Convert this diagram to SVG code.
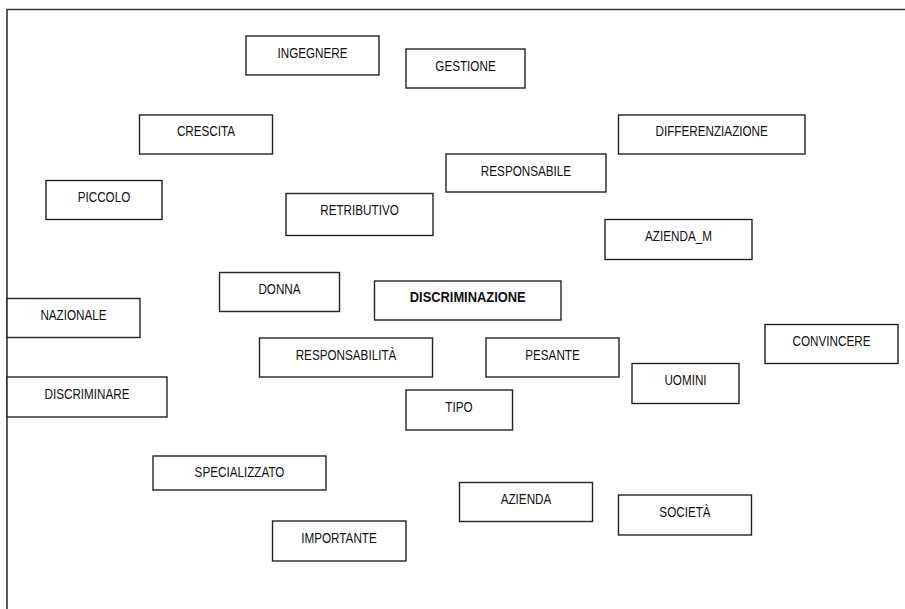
<svg xmlns="http://www.w3.org/2000/svg" width="905" height="609" viewBox="0 0 905 609">
  <style>
    .frame { fill: none; stroke: #333; stroke-width: 1.6; }
    .node rect { fill: #fff; stroke: #222; stroke-width: 1.4; }
    .node text { font-family: "Liberation Sans", Arial, sans-serif; font-size: 14.8px; fill: #111; text-anchor: middle; }
    .node.main text { font-weight: bold; }
  </style>
  <rect width="905" height="609" fill="#fff"/>
  <!-- outer frame, open to the right and bottom -->
  <path class="frame" d="M7,609 V9.5 H905"/>
  <g id="connectors"></g>
  <!-- labels use a narrowed sans: translate to the box centre/baseline, then squeeze horizontally -->
  <g id="n-ingegnere" class="node"><rect x="246" y="36" width="133" height="39"/><text transform="translate(312.5,57.5) scale(0.79,1)">INGEGNERE</text></g>
  <g id="n-gestione" class="node"><rect x="406" y="49" width="119" height="39"/><text transform="translate(465.5,70.5) scale(0.79,1)">GESTIONE</text></g>
  <g id="n-crescita" class="node"><rect x="139.5" y="115" width="133" height="39"/><text transform="translate(206,136) scale(0.79,1)">CRESCITA</text></g>
  <g id="n-differenziazione" class="node"><rect x="618.5" y="115" width="186.5" height="39"/><text transform="translate(711.7,136) scale(0.79,1)">DIFFERENZIAZIONE</text></g>
  <g id="n-responsabile" class="node"><rect x="446" y="154" width="160" height="38"/><text transform="translate(526,175.5) scale(0.79,1)">RESPONSABILE</text></g>
  <g id="n-piccolo" class="node"><rect x="46" y="180.5" width="116" height="39"/><text transform="translate(104,202) scale(0.79,1)">PICCOLO</text></g>
  <g id="n-retributivo" class="node"><rect x="286" y="193.5" width="147" height="42"/><text transform="translate(359.5,215) scale(0.79,1)">RETRIBUTIVO</text></g>
  <g id="n-azienda-m" class="node"><rect x="605" y="219.5" width="147" height="40"/><text transform="translate(678.5,241) scale(0.79,1)">AZIENDA_M</text></g>
  <g id="n-donna" class="node"><rect x="219.5" y="272.5" width="120" height="39"/><text transform="translate(279.5,294) scale(0.79,1)">DONNA</text></g>
  <g id="n-discriminazione" class="node main"><rect x="374.5" y="281" width="186.5" height="39"/><text transform="translate(467.7,302) scale(0.87,1)">DISCRIMINAZIONE</text></g>
  <g id="n-nazionale" class="node"><rect x="7" y="298.5" width="133" height="39"/><text transform="translate(73.5,320) scale(0.79,1)">NAZIONALE</text></g>
  <g id="n-convincere" class="node"><rect x="765" y="324.5" width="133" height="39"/><text transform="translate(831.5,346) scale(0.79,1)">CONVINCERE</text></g>
  <g id="n-responsabilita" class="node"><rect x="259.5" y="338" width="173" height="39"/><text transform="translate(346,359.5) scale(0.79,1)">RESPONSABILITÀ</text></g>
  <g id="n-pesante" class="node"><rect x="486" y="338" width="133" height="39"/><text transform="translate(552.5,359.5) scale(0.79,1)">PESANTE</text></g>
  <g id="n-uomini" class="node"><rect x="632" y="363.5" width="107" height="40"/><text transform="translate(685.5,385) scale(0.79,1)">UOMINI</text></g>
  <g id="n-discriminare" class="node"><rect x="7" y="377" width="160" height="40"/><text transform="translate(87,398.5) scale(0.79,1)">DISCRIMINARE</text></g>
  <g id="n-tipo" class="node"><rect x="406" y="390" width="106.5" height="40"/><text transform="translate(459,411.5) scale(0.79,1)">TIPO</text></g>
  <g id="n-specializzato" class="node"><rect x="153" y="456" width="173" height="34"/><text transform="translate(239.5,477) scale(0.79,1)">SPECIALIZZATO</text></g>
  <g id="n-azienda" class="node"><rect x="459.5" y="482.5" width="133" height="39"/><text transform="translate(526,504) scale(0.79,1)">AZIENDA</text></g>
  <g id="n-societa" class="node"><rect x="618.5" y="495" width="133" height="40"/><text transform="translate(685,516.5) scale(0.79,1)">SOCIETÀ</text></g>
  <g id="n-importante" class="node"><rect x="272.5" y="521" width="133.5" height="40"/><text transform="translate(339,542.5) scale(0.79,1)">IMPORTANTE</text></g>
</svg>
